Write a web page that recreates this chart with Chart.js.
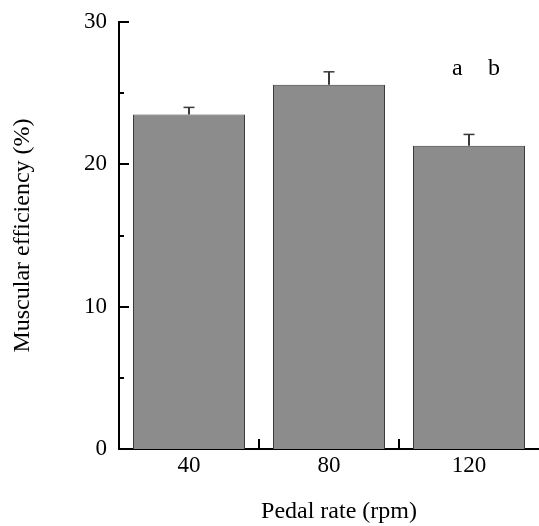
<!DOCTYPE html>
<html>
<head>
<meta charset="utf-8">
<script src="https://cdn.jsdelivr.net/npm/chart.js@4.4.1/dist/chart.umd.min.js"></script>
<style>
  html, body { margin: 0; padding: 0; background: #fff; }
  #wrap { width: 539px; height: 526px; }
</style>
</head>
<body>
<div id="wrap"><canvas id="c" width="539" height="526"></canvas></div>
<script>
// Pedal rate groups (rpm)
const categories = ['40', '80', '120'];
// Mean muscular efficiency (%)
const efficiency = [23.5, 25.6, 21.3];
// Upper error (SD) for each group
const efficiencyErr = [0.5, 0.9, 0.8];
// Axis tick values
const majorTicks = [0, 10, 20, 30];
const minorTicks = [5, 15, 25];
// Significance markers
const markers = ['a', 'b'];
const xTitle = 'Pedal rate (rpm)';

const FONT = "'Liberation Serif', 'Times New Roman', serif";

// Inward-pointing axis ticks (major, minor and category boundaries)
const innerTicks = {
  id: 'innerTicks',
  afterDatasetsDraw(chart) {
    const { ctx, scales: { x, y }, chartArea } = chart;
    ctx.save();
    ctx.strokeStyle = '#000';
    ctx.lineWidth = 2;
    ctx.beginPath();
    majorTicks.forEach(v => {
      const py = Math.round(y.getPixelForValue(v));
      ctx.moveTo(chartArea.left, py);
      ctx.lineTo(chartArea.left + 10, py);
    });
    minorTicks.forEach(v => {
      const py = Math.round(y.getPixelForValue(v));
      ctx.moveTo(chartArea.left, py);
      ctx.lineTo(chartArea.left + 5, py);
    });
    for (let i = 1; i < categories.length; i++) {
      const px = (x.getPixelForValue(i - 1) + x.getPixelForValue(i)) / 2;
      ctx.moveTo(px, chartArea.bottom);
      ctx.lineTo(px, chartArea.bottom - 10);
    }
    ctx.stroke();
    ctx.restore();
  }
};

// Upper error bars with caps
const errorBars = {
  id: 'errorBars',
  afterDatasetsDraw(chart) {
    const { ctx, scales: { y } } = chart;
    const meta = chart.getDatasetMeta(0);
    ctx.save();
    ctx.strokeStyle = '#3a3a3a';
    meta.data.forEach((bar, i) => {
      const top = y.getPixelForValue(efficiency[i] + efficiencyErr[i]);
      ctx.lineWidth = 2;
      ctx.beginPath();
      ctx.moveTo(bar.x, bar.y);
      ctx.lineTo(bar.x, top);
      ctx.stroke();
      ctx.lineWidth = 1.5;
      ctx.beginPath();
      ctx.moveTo(bar.x - 5.5, top);
      ctx.lineTo(bar.x + 5.5, top);
      ctx.stroke();
    });
    ctx.restore();
  }
};

// Letters above the 120 rpm group and the x-axis title
const textLayer = {
  id: 'textLayer',
  afterDraw(chart) {
    const { ctx, scales: { x } } = chart;
    ctx.save();
    ctx.fillStyle = '#000';
    ctx.font = '24px ' + FONT;
    ctx.textAlign = 'left';
    ctx.textBaseline = 'alphabetic';
    ctx.fillText(markers[0], 452, 75);
    ctx.fillText(markers[1], 488, 75);
    ctx.textAlign = 'center';
    ctx.fillText(xTitle, (x.left + x.right) / 2 + 10, 518);
    ctx.restore();
  }
};

new Chart(document.getElementById('c'), {
  type: 'bar',
  data: {
    labels: categories,
    datasets: [{
      data: efficiency,
      backgroundColor: '#8c8c8c',
      borderColor: '#3c3c3c',
      borderWidth: 1,
      borderSkipped: 'bottom',
      categoryPercentage: 0.8,
      barPercentage: 1.0
    }]
  },
  options: {
    responsive: false,
    animation: false,
    layout: { padding: { top: 22, right: -2, left: 0, bottom: 0 } },
    plugins: { legend: { display: false }, tooltip: { enabled: false } },
    scales: {
      x: {
        grid: { display: false, drawTicks: false },
        border: { display: true, color: '#000', width: 2 },
        ticks: { color: '#000', padding: 3, font: { family: FONT, size: 23 } },
        afterFit(scale) { scale.height = 77; }
      },
      y: {
        min: 0, max: 30,
        grid: { display: false, drawTicks: false },
        border: { display: true, color: '#000', width: 2 },
        ticks: { stepSize: 10, color: '#000', padding: 12, font: { family: FONT, size: 23 } },
        title: {
          display: true, text: 'Muscular efficiency (%)', color: '#000',
          font: { family: FONT, size: 24 }, padding: { top: 8, bottom: 0 }
        },
        afterFit(scale) {
          scale.width = 119;
          scale.paddingTop = 0;
          scale.paddingBottom = 0;
        }
      }
    }
  },
  plugins: [innerTicks, errorBars, textLayer]
});
</script>
</body>
</html>
